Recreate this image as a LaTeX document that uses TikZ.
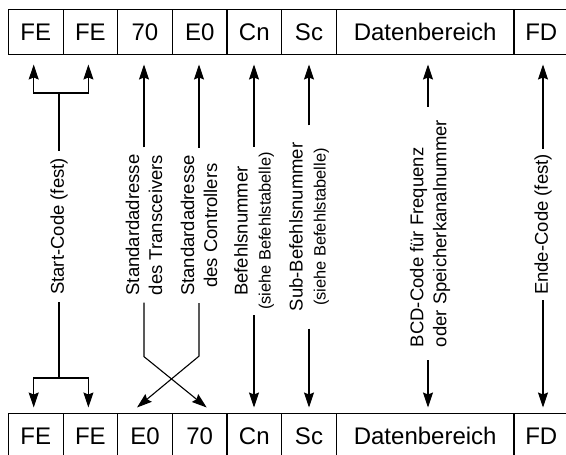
\documentclass[tikz,border=0pt]{standalone}
\usepackage{fontspec}
\setmainfont{Liberation Sans}
\usetikzlibrary{arrows.meta}
\newcommand{\parenfont}{\fontsize{16.4}{20}\selectfont}

\begin{document}
\begin{tikzpicture}[x=1pt,y=-1pt,>={Stealth[length=15pt,width=10pt,inset=2pt]},line cap=butt,line join=miter,
  cell/.style={draw,line width=1pt,inner sep=0pt,outer sep=0pt,minimum width=54.65pt,minimum height=45pt,font=\fontsize{24}{26}\selectfont},
  datacell/.style={cell,minimum width=177.7pt},
  lbl/.style={rotate=90,fill=white,inner xsep=7pt,inner ysep=1pt,align=center,font=\fontsize{18.5}{23}\selectfont},
  arr/.style={line width=1.1pt}]
\useasboundingbox (0,0) rectangle (566,455);
\clip (0,0) rectangle (566,455);
% upper frame
\node[cell] (t1) at (35.7,32) {FE};
\node[cell] (t2) at (90.4,32) {FE};
\node[cell] (t3) at (145,32) {70};
\node[cell] (t4) at (199.7,32) {E0};
\node[cell] (t5) at (254.3,32) {Cn};
\node[cell] (t6) at (309,32) {Sc};
\node[datacell] (t7) at (425.2,32) {Datenbereich};
\node[cell] (t8) at (541.3,32) {FD};
% lower frame
\node[cell] (b1) at (35.7,436) {FE};
\node[cell] (b2) at (90.4,436) {FE};
\node[cell] (b3) at (145,436) {E0};
\node[cell] (b4) at (199.7,436) {70};
\node[cell] (b5) at (254.3,436) {Cn};
\node[cell] (b6) at (309,436) {Sc};
\node[datacell] (b7) at (425.2,436) {Datenbereich};
\node[cell] (b8) at (541.3,436) {FD};
% labels
\node[lbl] (lstart) at (59,226.5) {Start-Code (fest)};
\node[lbl] (ltrans) at (144,225) {Standardadresse\\des Transceivers};
\node[lbl] (lctrl) at (199,225.5) {Standardadresse\\des Controllers};
\node[lbl,inner xsep=5pt] (lcmd) at (254,231) {Befehlsnummer\\{\parenfont (siehe Befehlstabelle)}};
\node[lbl,inner xsep=17pt] (lsub) at (309,227) {Sub-Befehlsnummer\\{\parenfont (siehe Befehlstabelle)}};
\node[lbl,align=left,inner xsep=13pt] (ldata) at (430,233.5) {BCD-Code für Frequenz\\oder Speicherkanalnummer};
\node[lbl,inner xsep=5pt] (lend) at (543,224.5) {Ende-Code (fest)};
% start code
\coordinate (fetop) at (59,93);
\coordinate (febot) at (59,378);
\draw[arr] (lstart.east) -- (fetop);
\draw[arr,<->] ([xshift=-2pt,yshift=-10pt]t1.south) |- (fetop) -| ([xshift=-2pt,yshift=-10pt]t2.south);
\draw[arr] (lstart.west) -- (febot);
\draw[arr,<->] ([xshift=-2pt,yshift=6pt]b1.north) |- (febot) -| ([xshift=-2pt,yshift=6pt]b2.north);
% addresses
\draw[arr,->,shorten >=10pt] (ltrans.east) -- (ltrans.east |- t3.south);
\draw[arr,->,shorten >=10pt] (lctrl.east) -- (lctrl.east |- t4.south);
\draw[arr,->] (ltrans.west) -- ++(0,54) -- ([xshift=7pt,yshift=6pt]b4.north);
\draw[arr,->] (lctrl.west) -- ++(0,53) -- ([xshift=-8pt,yshift=6pt]b3.north);
% command, sub-command, data, end
\draw[arr,->,shorten >=10pt] (lcmd.east) -- (lcmd.east |- t5.south);
\draw[arr,->,shorten >=6pt] (lcmd.west) -- (lcmd.west |- b5.north);
\draw[arr,->,shorten >=10pt] (lsub.east) -- (lsub.east |- t6.south);
\draw[arr,->,shorten >=6pt] (lsub.west) -- (lsub.west |- b6.north);
\draw[arr,->,shorten >=10pt] ([xshift=-2pt]ldata.east) -- ([xshift=-2pt]ldata.east |- t7.south);
\draw[arr,->,shorten >=6pt] ([xshift=-2pt]ldata.west) -- ([xshift=-2pt]ldata.west |- b7.north);
\draw[arr,->,shorten >=10pt] (lend.east) -- (lend.east |- t8.south);
\draw[arr,->,shorten >=6pt] (lend.west) -- (lend.west |- b8.north);
\end{tikzpicture}
\end{document}
